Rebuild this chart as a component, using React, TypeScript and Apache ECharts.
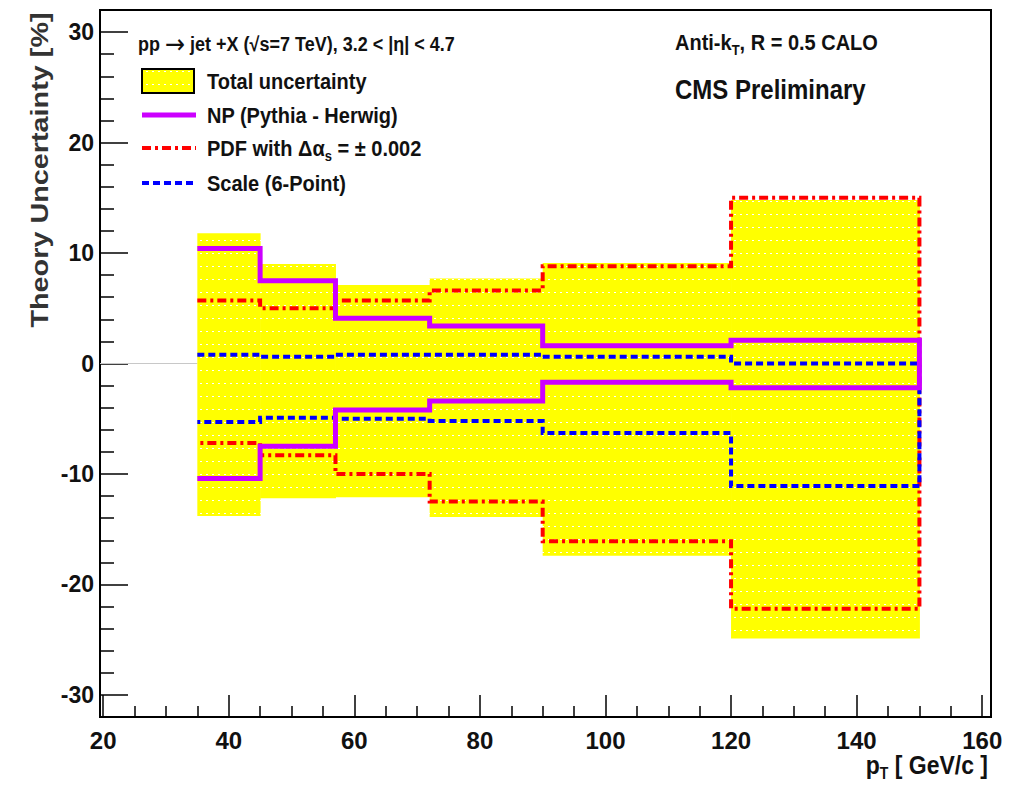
import React, { useEffect, useRef } from 'react';
import * as echarts from 'echarts';

// ---- data ----
const binEdges = [35, 45, 57, 72, 90, 120, 150];
const totalUp = [11.8, 9.0, 7.1, 7.7, 9.1, 14.8];
const totalDown = [-13.8, -12.2, -12.1, -13.9, -17.4, -24.9];
const npUp = [10.4, 7.5, 4.1, 3.4, 1.6, 2.1];
const npDown = [-10.4, -7.5, -4.2, -3.4, -1.7, -2.2];
const pdfUp = [5.7, 5.0, 5.7, 6.6, 8.8, 15.0];
const pdfDown = [-7.2, -8.3, -10.0, -12.5, -16.1, -22.2];
const scaleUp = [0.8, 0.6, 0.8, 0.8, 0.6, 0.0];
const scaleDown = [-5.3, -4.9, -5.0, -5.2, -6.3, -11.1];

const xMajorTicks = [20, 40, 60, 80, 100, 120, 140, 160];
const yMajorTicks = [-30, -20, -10, 0, 10, 20, 30];
const xRange = [19.5, 161.4];
const yRange = [-32, 32];

function minorTicks(from: number, to: number, step: number, major: number[]) {
  const out: number[] = [];
  for (let v = from; v <= to + 1e-9; v += step) {
    if (!major.some((m) => Math.abs(m - v) < 1e-9)) out.push(v);
  }
  return out;
}
const xMinorTicks = minorTicks(20, 160, 5, xMajorTicks);
const yMinorTicks = minorTicks(-32, 32, 2, yMajorTicks);

function outline(up: number[], down: number[]) {
  const pts: number[][] = [];
  for (let i = 0; i < up.length; i++) {
    pts.push([binEdges[i], up[i]]);
    pts.push([binEdges[i + 1], up[i]]);
  }
  for (let i = down.length - 1; i >= 0; i--) {
    pts.push([binEdges[i + 1], down[i]]);
    pts.push([binEdges[i], down[i]]);
  }
  return pts;
}

const bandData = totalUp.map((u, i) => [binEdges[i], binEdges[i + 1], totalDown[i], u]);

const FONT = '"Liberation Sans", Arial, sans-serif';
const NP_COLOR = '#cc00ff';
const PDF_COLOR = '#ff0000';
const SCALE_COLOR = '#0000ff';
const PDF_DASH = [9, 4, 3, 4];
const SCALE_DASH = [7, 4];
const TEXT_SCALE_Y = 1.12;

function makePattern(): any {
  try {
    const c = document.createElement('canvas');
    c.width = 6;
    c.height = 13;
    const ctx = c.getContext('2d');
    if (!ctx) return '#ffff00';
    ctx.fillStyle = '#ffff00';
    ctx.fillRect(0, 0, 6, 13);
    ctx.fillStyle = '#ffffff';
    ctx.fillRect(2, 6, 2, 1);
    return { image: c, repeat: 'repeat' };
  } catch (e) {
    return '#ffff00';
  }
}

export default function App() {
  const ref = useRef<HTMLDivElement>(null);

  useEffect(() => {
    if (!ref.current) return;
    const chart = echarts.init(ref.current, undefined, { renderer: 'svg' });
    const pattern = makePattern();

    const baseStyle = {
      fill: '#111',
      align: 'left',
      verticalAlign: 'middle',
      textAlign: 'left',
      textVerticalAlign: 'middle',
    };

    const txt = (x: number, y: number, text: string, size: number) => ({
      type: 'text',
      x,
      y,
      z: 100,
      scaleY: TEXT_SCALE_Y,
      silent: true,
      style: {
        ...baseStyle,
        text,
        fontSize: size,
        fontWeight: 'bold',
        fontFamily: FONT,
      },
    });

    const richTxt = (x: number, y: number, text: string, size: number, subSize: number, subDrop: number, align = 'left') => ({
      type: 'text',
      x,
      y,
      z: 100,
      scaleY: TEXT_SCALE_Y,
      silent: true,
      style: {
        ...baseStyle,
        align,
        textAlign: align,
        text,
        rich: {
          n: { fontSize: size, fontWeight: 'bold', fontFamily: FONT, fill: '#111', color: '#111' },
          a: { fontSize: size + 6, fontWeight: 'normal', fontFamily: '"DejaVu Sans", sans-serif', fill: '#111', color: '#111' },
          s: { fontSize: subSize, fontWeight: 'bold', fontFamily: FONT, fill: '#111', color: '#111', padding: [subDrop, 0, 0, 0] },
        },
      },
    });

    const legendLine = (y: number, color: string, width: number, dash?: number[]) => ({
      type: 'line',
      z: 100,
      silent: true,
      shape: { x1: 142, y1: y, x2: 196, y2: y },
      style: { stroke: color, lineWidth: width, lineDash: dash || null, lineCap: 'butt' },
    });

    const lineSeries = (name: string, up: number[], down: number[], color: string, width: number, dash: any, z: number) => ({
      name,
      type: 'line',
      data: outline(up, down),
      showSymbol: false,
      symbol: 'none',
      z,
      silent: true,
      lineStyle: { color, width, type: dash, cap: 'butt', join: 'miter' },
    });

    const option: any = {
      animation: false,
      backgroundColor: '#ffffff',
      grid: {
        left: 100,
        right: 26,
        top: 10,
        bottom: 69,
        show: true,
        borderColor: '#000',
        borderWidth: 2,
        backgroundColor: 'transparent',
      },
      xAxis: [
        {
          type: 'value',
          min: xRange[0],
          max: xRange[1],
          position: 'bottom',
          axisLine: { show: true, onZero: false, lineStyle: { color: '#000', width: 2 } },
          axisTick: { show: true, inside: true, length: 22, customValues: xMajorTicks, lineStyle: { color: '#000', width: 1.5 } },
          axisLabel: { show: true, customValues: xMajorTicks, fontSize: 24, fontWeight: 'bold', fontFamily: FONT, color: '#111', margin: 11 },
          splitLine: { show: false },
        },
        {
          type: 'value',
          min: xRange[0],
          max: xRange[1],
          position: 'bottom',
          axisLine: { show: false, onZero: false },
          axisTick: { show: true, inside: true, length: 11, customValues: xMinorTicks, lineStyle: { color: '#000', width: 1.5 } },
          axisLabel: { show: false },
          splitLine: { show: false },
        },
      ],
      yAxis: [
        {
          type: 'value',
          min: yRange[0],
          max: yRange[1],
          position: 'left',
          axisLine: { show: true, onZero: false, lineStyle: { color: '#000', width: 2 } },
          axisTick: { show: true, inside: true, length: 28, customValues: yMajorTicks, lineStyle: { color: '#000', width: 1.5 } },
          axisLabel: { show: true, customValues: yMajorTicks, fontSize: 23, fontWeight: 'bold', fontFamily: FONT, color: '#111', margin: 6 },
          splitLine: { show: false },
        },
        {
          type: 'value',
          min: yRange[0],
          max: yRange[1],
          position: 'left',
          axisLine: { show: false, onZero: false },
          axisTick: { show: true, inside: true, length: 14, customValues: yMinorTicks, lineStyle: { color: '#000', width: 1.5 } },
          axisLabel: { show: false },
          splitLine: { show: false },
        },
      ],
      series: [
        {
          name: 'zero',
          type: 'line',
          data: [[xRange[0], 0], [binEdges[0], 0]],
          showSymbol: false,
          symbol: 'none',
          z: 1,
          silent: true,
          lineStyle: { color: '#c8c8c8', width: 1 },
        },
        {
          name: 'Total uncertainty',
          type: 'custom',
          z: 2,
          silent: true,
          data: bandData,
          renderItem: (params: any, api: any) => {
            const p0 = api.coord([api.value(0), api.value(3)]);
            const p1 = api.coord([api.value(1), api.value(2)]);
            return {
              type: 'rect',
              shape: { x: p0[0], y: p0[1], width: p1[0] - p0[0] + 0.5, height: p1[1] - p0[1] },
              style: { fill: pattern, stroke: null },
            };
          },
        },
        lineSeries('PDF', pdfUp, pdfDown, PDF_COLOR, 4, PDF_DASH, 3),
        lineSeries('Scale', scaleUp, scaleDown, SCALE_COLOR, 4, SCALE_DASH, 4),
        lineSeries('NP', npUp, npDown, NP_COLOR, 5, 'solid', 5),
      ],
      graphic: [
        richTxt(138, 44, '{n|pp }{a|\u2192}{n| jet +X (\u221As=7 TeV), 3.2 < |\u03B7| < 4.7}', 18, 12, 12),
        {
          type: 'rect',
          z: 100,
          silent: true,
          shape: { x: 142, y: 69, width: 52, height: 24 },
          style: { fill: pattern, stroke: '#000', lineWidth: 2 },
        },
        txt(207, 81, 'Total uncertainty', 20),
        legendLine(115, NP_COLOR, 5),
        txt(207, 115, 'NP (Pythia - Herwig)', 20),
        legendLine(148, PDF_COLOR, 4, PDF_DASH),
        richTxt(207, 148, '{n|PDF with \u0394\u03B1}{s|s}{n| = \u00B1 0.002}', 20, 13, 14),
        legendLine(183, SCALE_COLOR, 4, SCALE_DASH),
        txt(207, 183, 'Scale (6-Point)', 20),
        richTxt(675, 42, '{n|Anti-k}{s|T}{n|, R = 0.5 CALO}', 20, 13, 14),
        txt(675, 90, 'CMS Preliminary', 24),
        {
          type: 'text',
          x: 40,
          y: 170,
          rotation: Math.PI / 2,
          scaleX: 1.2,
          z: 100,
          silent: true,
          style: {
            text: 'Theory Uncertainty [%]',
            fontSize: 24,
            fontWeight: 'bold',
            fontFamily: FONT,
            fill: '#333',
            align: 'center',
            verticalAlign: 'middle',
            textAlign: 'center',
            textVerticalAlign: 'middle',
          },
        },
        richTxt(988, 765, '{n|p}{s|T}{n| [ GeV/c ]}', 23, 14, 16, 'right'),
      ],
    };

    chart.setOption(option);
    return () => {
      chart.dispose();
    };
  }, []);

  return (
    <div
      ref={ref}
      style={{ position: 'absolute', left: 0, top: 0, width: 1017, height: 786, background: '#fff' }}
    />
  );
}
